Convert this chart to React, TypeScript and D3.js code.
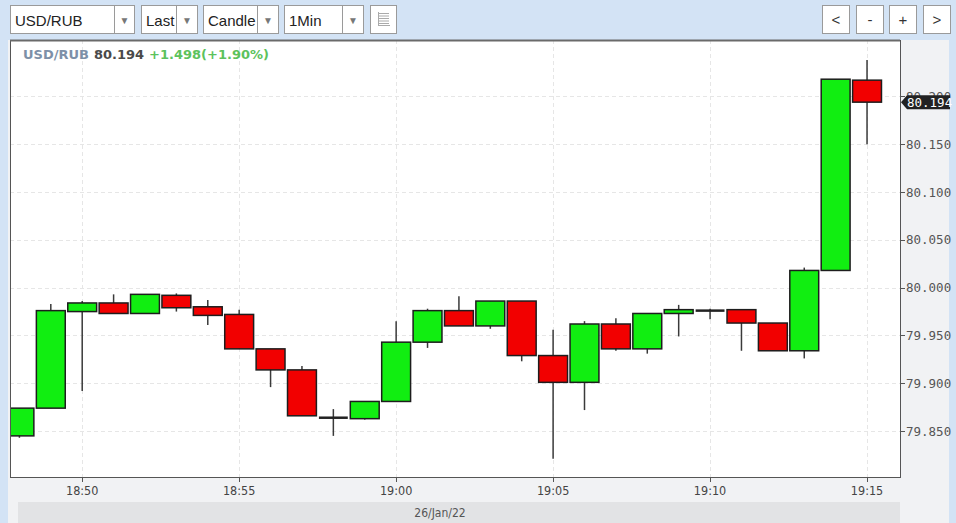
import React from "react";
import * as d3 from "d3";

const times = ["18:48","18:49","18:50","18:51","18:52","18:53","18:54","18:55","18:56","18:57","18:58","18:59","19:00","19:01","19:02","19:03","19:04","19:05","19:06","19:07","19:08","19:09","19:10","19:11","19:12","19:13","19:14","19:15"];
const opens = [79.845,79.874,79.975,79.984,79.973,79.992,79.980,79.972,79.936,79.914,79.864,79.863,79.881,79.943,79.976,79.960,79.986,79.929,79.901,79.962,79.936,79.973,79.976,79.977,79.963,79.934,80.018,80.217];
const highs = [79.874,79.983,79.986,79.993,79.993,79.994,79.987,79.977,79.936,79.918,79.873,79.881,79.965,79.978,79.991,79.986,79.986,79.956,79.965,79.968,79.973,79.982,79.978,79.977,79.963,80.021,80.218,80.238];
const lows = [79.843,79.874,79.892,79.973,79.973,79.975,79.961,79.936,79.896,79.866,79.845,79.862,79.881,79.937,79.960,79.957,79.923,79.821,79.872,79.934,79.931,79.949,79.967,79.934,79.934,79.926,80.018,80.150];
const closes = [79.874,79.976,79.984,79.973,79.993,79.979,79.971,79.936,79.914,79.866,79.864,79.881,79.943,79.976,79.960,79.986,79.929,79.901,79.962,79.936,79.973,79.977,79.976,79.963,79.934,80.018,80.218,80.194];

const yTicks = [79.85, 79.9, 79.95, 80.0, 80.05, 80.1, 80.15, 80.2];
const xTickLabels = ["18:50","18:55","19:00","19:05","19:10","19:15"];
const dateLabel = "26/Jan/22";
const symbol = "USD/RUB";
const lastPrice = "80.194";
const change = "+1.498(+1.90%)";
const toolbarItems = ["USD/RUB", "Last", "Candle", "1Min"];
const navButtons = ["<", "-", "+", ">"];

const W = 956, H = 523;
const P = { left: 10, right: 900, top: 40, bottom: 477 };

const toDate = (t: string) => {
  const [h, m] = t.split(":").map(Number);
  return new Date(2022, 0, 26, h, m, 0);
};

export default function App() {
  const x = d3.scaleTime()
    .domain([new Date(2022, 0, 26, 18, 47, 42), new Date(2022, 0, 26, 19, 16, 3)])
    .range([P.left, P.right]);
  const y = d3.scaleLinear().domain([79.802, 80.259]).range([P.bottom, P.top]);
  const minute = x(toDate("18:51")) - x(toDate("18:50"));
  const cw = minute * 0.92;

  const candles = times.map((t, i) => ({ t: toDate(t), o: opens[i], h: highs[i], l: lows[i], c: closes[i] }));
  const fmt = d3.format(".3f");

  const ddBoxes = [
    { x0: 10, x1: 134, div: 114 },
    { x0: 141, x1: 197, div: 176 },
    { x0: 203, x1: 278, div: 257 },
    { x0: 284, x1: 363, div: 342 },
  ];
  const navX = [822, 856, 889, 923];
  const lastY = y(closes[closes.length - 1]);

  return (
    <svg width={W} height={H} style={{ position: "fixed", left: 0, top: 0, fontFamily: "'Liberation Sans', Arial, sans-serif" }}>
      <defs>
        <clipPath id="plotclip">
          <rect x={P.left} y={P.top} width={P.right - P.left} height={P.bottom - P.top} />
        </clipPath>
        <clipPath id="candleclip">
          <rect x={203} y={5} width={54} height={28} />
        </clipPath>
      </defs>
      <rect x={0} y={0} width={W} height={H} fill="#d3e3f5" />
      {/* panel */}
      <rect x={8} y={40} width={941} height={H - 40} fill="#f1f2f4" />
      <rect x={18} y={502} width={882} height={21} fill="#e2e3e5" />
      <rect x={P.left} y={P.top} width={P.right - P.left} height={P.bottom - P.top} fill="#ffffff" />

      {/* toolbar */}
      {ddBoxes.map((b, i) => (
        <g key={i}>
          <rect x={b.x0 + 0.5} y={5.5} width={b.x1 - b.x0} height={28} fill="#fff" stroke="#9a9a9a" />
          <line x1={b.div + 0.5} x2={b.div + 0.5} y1={5.5} y2={33.5} stroke="#9a9a9a" />
          <text x={b.x0 + 5} y={26} fontSize={15} fill="#222" clipPath={i === 2 ? "url(#candleclip)" : undefined}>{toolbarItems[i]}</text>
          <text x={(b.div + b.x1) / 2 + 0.5} y={24} fontSize={10} fill="#777" textAnchor="middle">▼</text>
        </g>
      ))}
      <rect x={370.5} y={5.5} width={26} height={28} fill="#fff" stroke="#9a9a9a" />
      {[0, 1, 2, 3, 4].map((k) => (
        <line key={k} x1={379} x2={389} y1={13.5 + k * 2.5} y2={13.5 + k * 2.5} stroke="#aaa" strokeWidth={1} />
      ))}
      <line x1={378.5} x2={378.5} y1={12} y2={25} stroke="#aaa" />
      <line x1={378} x2={390} y1={25.5} y2={25.5} stroke="#aaa" />
      {navButtons.map((b, i) => (
        <g key={b}>
          <rect x={navX[i] + 0.5} y={5.5} width={27} height={28} fill="#fff" stroke="#9a9a9a" />
          <text x={navX[i] + 14} y={25} fontSize={15} fill="#333" textAnchor="middle">{b}</text>
        </g>
      ))}

      {/* grid */}
      {yTicks.map((v) => (
        <line key={v} x1={P.left} x2={P.right} y1={Math.round(y(v)) + 0.5} y2={Math.round(y(v)) + 0.5} stroke="#e6e6e6" strokeDasharray="4,3" />
      ))}
      {xTickLabels.map((t) => (
        <line key={t} x1={Math.round(x(toDate(t))) + 0.5} x2={Math.round(x(toDate(t))) + 0.5} y1={P.top} y2={P.bottom} stroke="#e6e6e6" strokeDasharray="4,3" />
      ))}

      {/* candles */}
      <g clipPath="url(#plotclip)">
        {candles.map((d, i) => {
          const cx = x(d.t);
          const up = d.c > d.o;
          const flat = d.c === d.o;
          const top = y(Math.max(d.o, d.c));
          const bot = y(Math.min(d.o, d.c));
          return (
            <g key={i}>
              <line x1={cx} x2={cx} y1={y(d.h)} y2={y(d.l)} stroke="#3a3a3a" strokeWidth={1.5} />
              {flat ? (
                <line x1={cx - cw / 2} x2={cx + cw / 2} y1={top} y2={top} stroke="#222" strokeWidth={2.5} />
              ) : (
                <rect x={cx - cw / 2} y={top} width={cw} height={Math.max(bot - top, 2)}
                  fill={up ? "#11ee11" : "#f20000"} stroke="#1d1d1d" strokeWidth={1.5} />
              )}
            </g>
          );
        })}
      </g>

      {/* plot border */}
      <rect x={P.left + 0.5} y={P.top + 0.5} width={P.right - P.left} height={P.bottom - P.top} fill="none" stroke="#555" strokeWidth={1} />
      <line x1={P.left} x2={P.right} y1={P.top + 0.5} y2={P.top + 0.5} stroke="#6a6a6a" strokeWidth={2} />

      {/* title */}
      <text x={23} y={59} fontSize={13} fontWeight="bold" fontFamily="'DejaVu Sans', sans-serif">
        <tspan fill="#7d90a8">{symbol}</tspan>
        <tspan fill="#4a4a4a" dx={5}>{lastPrice}</tspan>
        <tspan fill="#5cc25c" dx={5}>{change}</tspan>
      </text>

      {/* y axis */}
      {yTicks.map((v) => (
        <g key={v}>
          <line x1={P.right} x2={P.right + 5} y1={Math.round(y(v)) + 0.5} y2={Math.round(y(v)) + 0.5} stroke="#555" />
          <text x={P.right + 6} y={y(v) + 4.5} fontSize={12.5} fill="#555" fontFamily="'DejaVu Sans Mono', monospace">{fmt(v)}</text>
        </g>
      ))}
      {/* last price tag */}
      <path d={`M${P.right + 1},${lastY} L${P.right + 7},${lastY - 7} L${W - 6},${lastY - 7} L${W - 6},${lastY + 7} L${P.right + 7},${lastY + 7} Z`} fill="#222" />
      <text x={P.right + 7} y={lastY + 4.5} fontSize={12.5} fill="#fff" fontFamily="'DejaVu Sans Mono', monospace">{lastPrice}</text>

      {/* x axis */}
      {xTickLabels.map((t) => (
        <g key={t}>
          <line x1={Math.round(x(toDate(t))) + 0.5} x2={Math.round(x(toDate(t))) + 0.5} y1={P.bottom} y2={P.bottom + 5} stroke="#555" />
          <text x={x(toDate(t))} y={495} fontSize={12.5} fill="#444" textAnchor="middle" fontFamily="'DejaVu Sans', sans-serif" style={{ fontStretch: "condensed" }}>{t}</text>
        </g>
      ))}
      <text x={440} y={517} fontSize={12} fill="#555" textAnchor="middle" fontFamily="'DejaVu Sans', sans-serif" style={{ fontStretch: "condensed" }}>{dateLabel}</text>
    </svg>
  );
}
